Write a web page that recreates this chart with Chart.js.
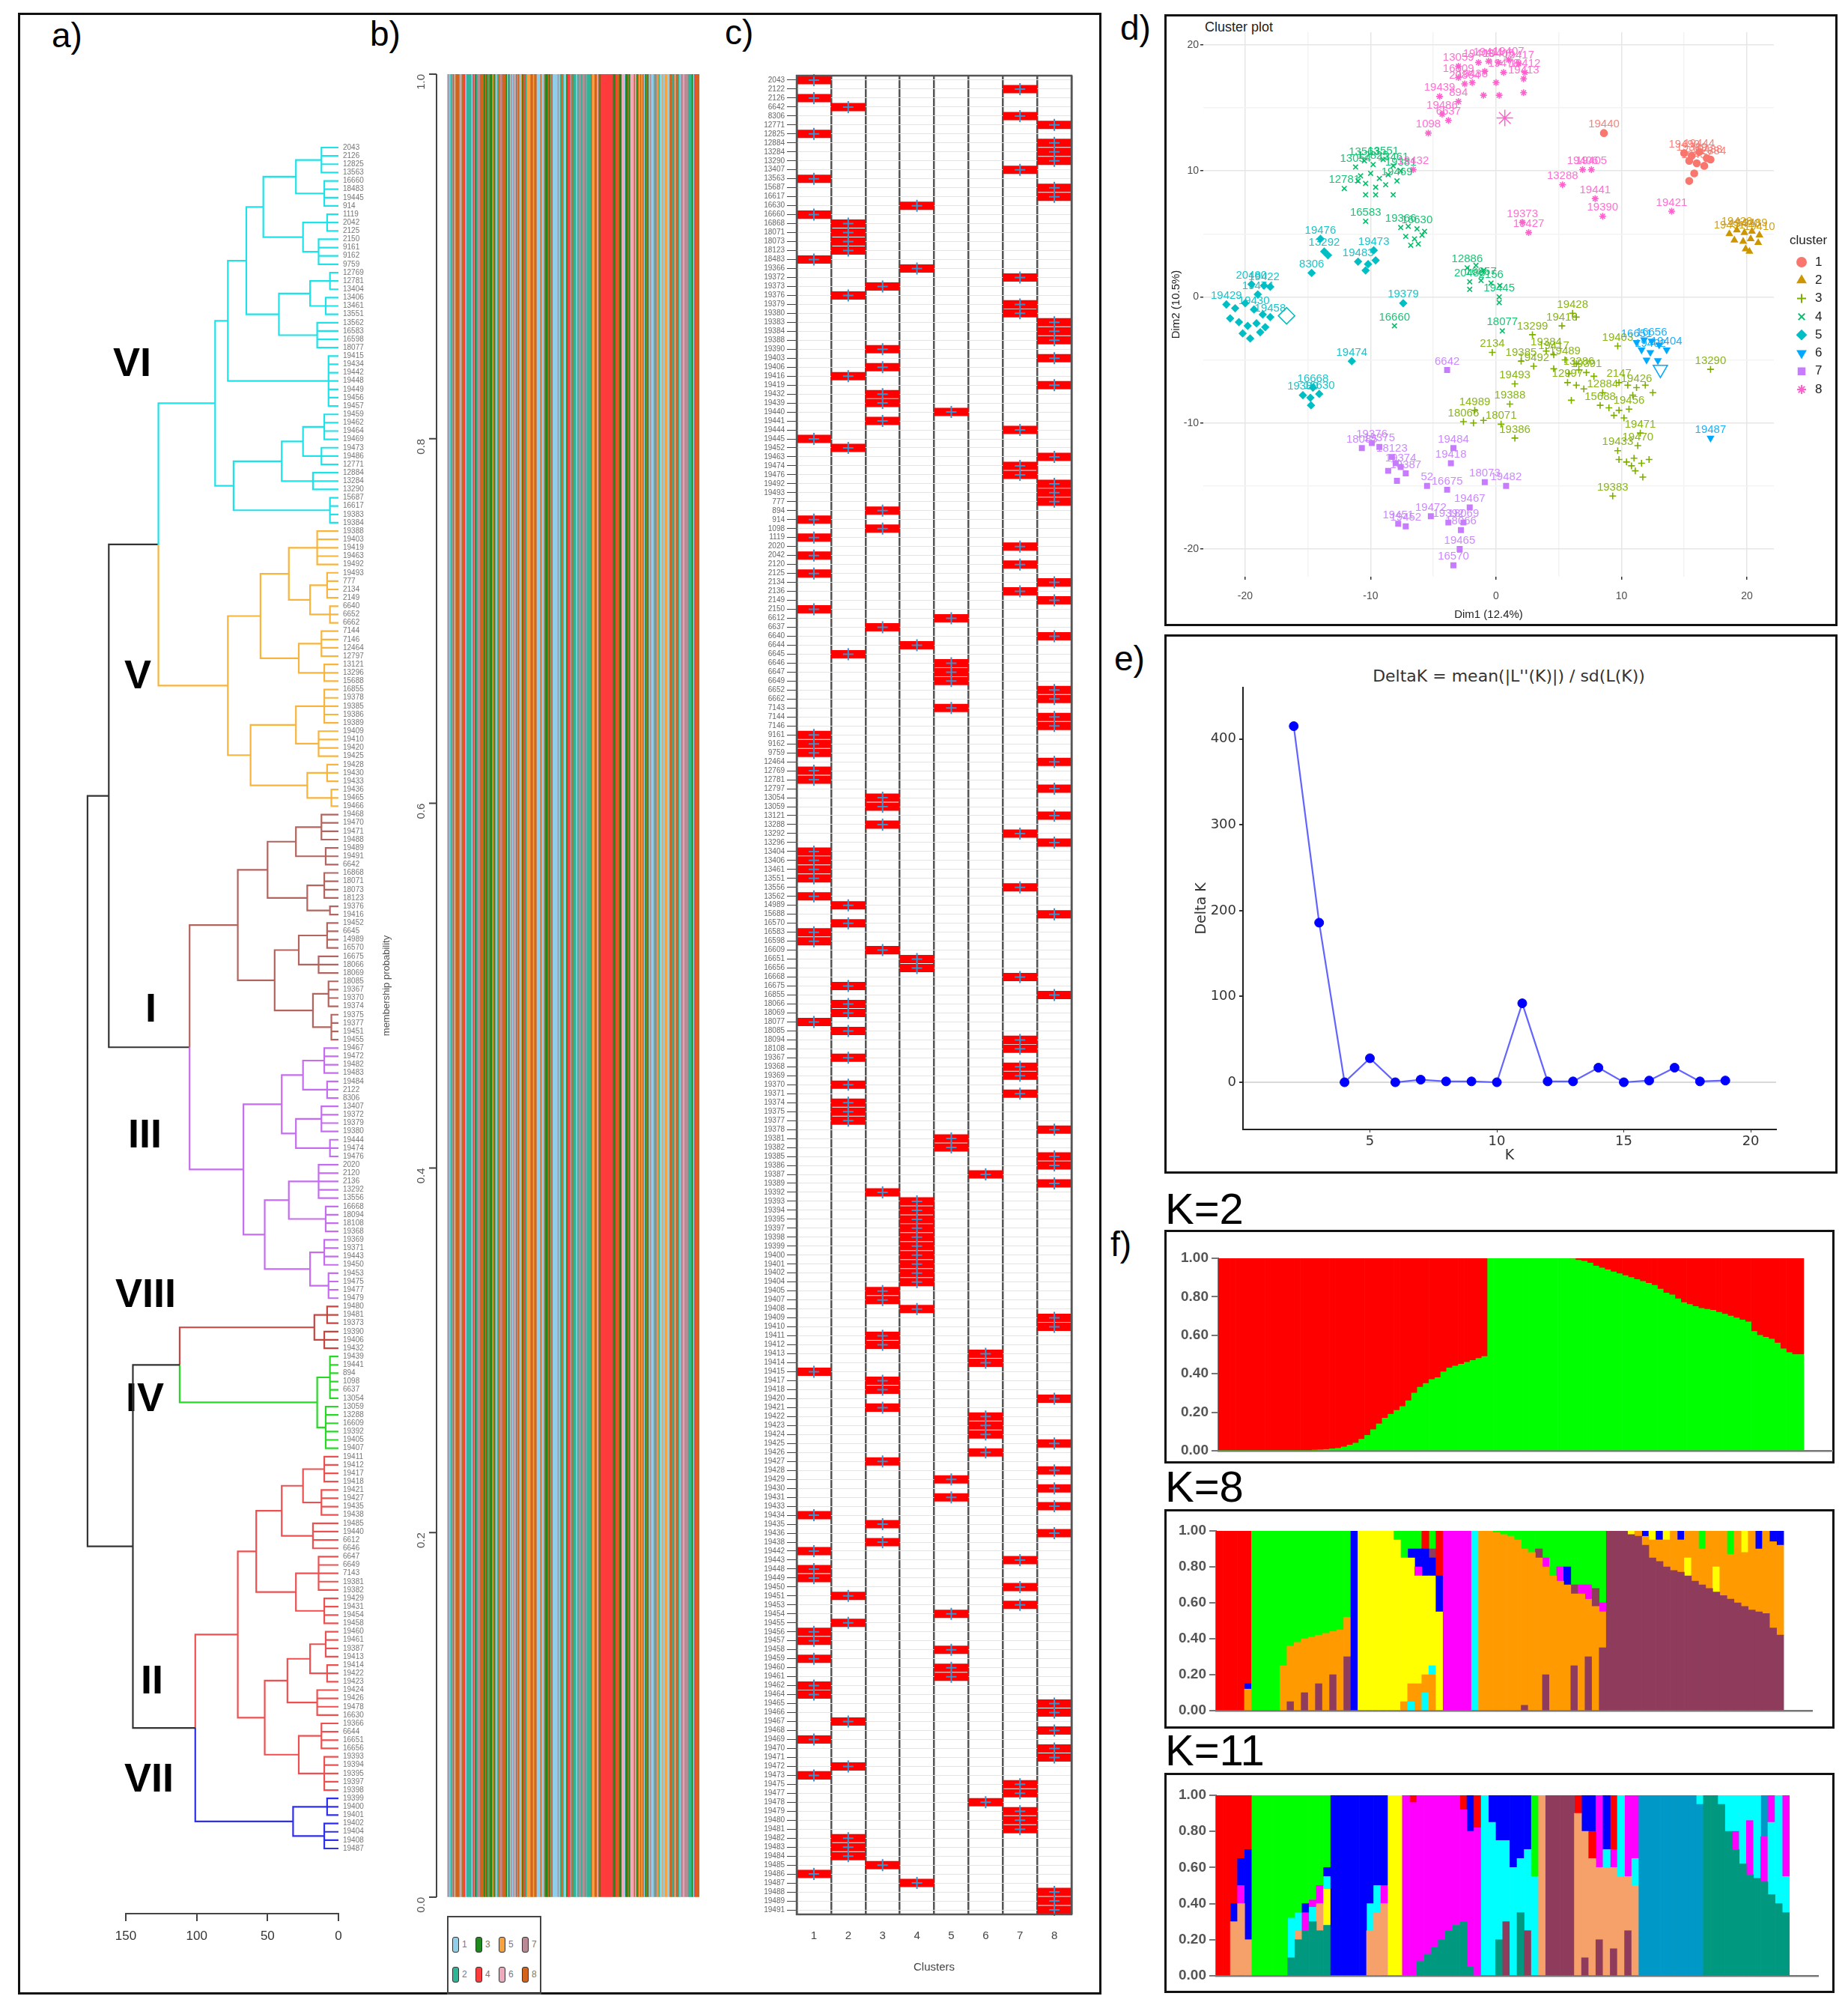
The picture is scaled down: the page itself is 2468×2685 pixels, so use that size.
<!DOCTYPE html>
<html>
<head>
<meta charset="utf-8">
<title>Cluster analysis panels</title>
<script src="https://cdn.jsdelivr.net/npm/chart.js@4.4.1/dist/chart.umd.min.js"></script>
<style>
  body { margin:0; width:2468px; height:2685px; position:relative; background:#fff; overflow:hidden;
         font-family:"Liberation Sans", Arial, sans-serif; }
  canvas { position:absolute; }
  .frame { position:absolute; border:3px solid #111; box-sizing:border-box; }
  .tag { position:absolute; font-size:46px; line-height:1; color:#000; }
  .rom { position:absolute; font-weight:bold; font-size:54px; line-height:1; color:#000; }
  .ktag { position:absolute; font-size:58px; line-height:1; color:#000; }
  .note { position:absolute; white-space:nowrap; color:#222; }
  .sw { position:absolute; width:7px; height:19px; border:1.5px solid #333; border-radius:3px; }
  .swl { position:absolute; font-size:12px; color:#777; }
</style>
</head>
<body>
<div class="frame" style="left:24px;top:17px;width:1447px;height:2646px"></div>
<div class="frame" style="left:1555px;top:19px;width:899px;height:817px"></div>
<div class="frame" style="left:1555px;top:847px;width:899px;height:720px"></div>
<div class="frame" style="left:1555px;top:1642px;width:895px;height:312px"></div>
<div class="frame" style="left:1555px;top:2015px;width:895px;height:293px"></div>
<div class="frame" style="left:1555px;top:2367px;width:895px;height:294px"></div>
<div class="frame" style="left:597px;top:2558px;width:126px;height:105px;border-width:2px;border-color:#444"></div>

<div class="tag" style="left:69px;top:24px">a)</div>
<div class="tag" style="left:494px;top:22px">b)</div>
<div class="tag" style="left:968px;top:20px">c)</div>
<div class="tag" style="left:1496px;top:14px">d)</div>
<div class="tag" style="left:1488px;top:856px">e)</div>
<div class="tag" style="left:1483px;top:1638px">f)</div>
<div class="ktag" style="left:1556px;top:1585px">K=2</div>
<div class="ktag" style="left:1556px;top:1956px">K=8</div>
<div class="ktag" style="left:1556px;top:2308px">K=11</div>

<div class="rom" style="left:151px;top:456px">VI</div>
<div class="rom" style="left:166px;top:873px">V</div>
<div class="rom" style="left:194px;top:1318px">I</div>
<div class="rom" style="left:171px;top:1486px">III</div>
<div class="rom" style="left:154px;top:1699px">VIII</div>
<div class="rom" style="left:168px;top:1838px">IV</div>
<div class="rom" style="left:188px;top:2215px">II</div>
<div class="rom" style="left:166px;top:2346px">VII</div>

<div class="note" style="left:1609px;top:26px;font-size:18px">Cluster plot</div>
<div class="note" style="left:2015px;top:902px;font-size:22px;font-family:'DejaVu Sans';transform:translate(-50%,-50%);color:#333">DeltaK = mean(|L''(K)|) / sd(L(K))</div>

<script>
// ---------------- data ----------------
// samples (row order of panel c) and their k-means cluster
const SAMPLES = ['2043','2122','2126','6642','8306','12771','12825','12884','13284','13290',
  '13407','13563','15687','16617','16630','16660','16868','18071','18073','18123',
  '18483','19366','19372','19373','19376','19379','19380','19383','19384','19388',
  '19390','19403','19406','19416','19419','19432','19439','19440','19441','19444',
  '19445','19452','19463','19474','19476','19492','19493','777','894','914',
  '1098','1119','2020','2042','2120','2125','2134','2136','2149','2150',
  '6612','6637','6640','6644','6645','6646','6647','6649','6652','6662',
  '7143','7144','7146','9161','9162','9759','12464','12769','12781','12797',
  '13054','13059','13121','13288','13292','13296','13404','13406','13461','13551',
  '13556','13562','14989','15688','16570','16583','16598','16609','16651','16656',
  '16668','16675','16855','18066','18069','18077','18085','18094','18108','19367',
  '19368','19369','19370','19371','19374','19375','19377','19378','19381','19382',
  '19385','19386','19387','19389','19392','19393','19394','19395','19397','19398',
  '19399','19400','19401','19402','19404','19405','19407','19408','19409','19410',
  '19411','19412','19413','19414','19415','19417','19418','19420','19421','19422',
  '19423','19424','19425','19426','19427','19428','19429','19430','19431','19433',
  '19434','19435','19436','19438','19442','19443','19448','19449','19450','19451',
  '19453','19454','19455','19456','19457','19458','19459','19460','19461','19462',
  '19464','19465','19466','19467','19468','19469','19470','19471','19472','19473',
  '19475','19477','19478','19479','19480','19481','19482','19483','19484','19485',
  '19486','19487','19488','19489','19491'];
const KM_CLUSTER = [1,7,1,2,7,8,1,8,8,8, 7,1,8,8,4,1,2,2,2,2, 1,4,7,3,2,7,7,8,8,8,
  3,8,3,2,8,3,3,5,3,7, 1,2,8,7,7,8,8,8,3,1, 3,1,7,1,7,1,8,7,8,1,
  5,3,8,4,2,5,5,5,8,8, 5,8,8,1,1,1,8,1,1,8, 3,3,8,3,7,8,1,1,1,1,
  7,1,2,8,2,1,1,3,4,4, 7,2,8,2,2,1,2,7,7,2, 7,7,2,7,2,2,2,8,5,5,
  8,8,6,8,3,4,4,4,4,4, 4,4,4,4,4,3,3,4,8,8, 3,3,6,6,1,3,3,8,3,6,
  6,6,8,6,3,8,5,8,5,8, 1,3,8,3,1,7,1,1,7,2, 7,5,2,1,1,5,1,5,5,1,
  1,8,8,2,8,1,8,8,2,1, 7,7,6,7,7,7,2,2,2,3, 1,4,8,8,8];
const CLUSTER_IDS = [1,2,3,4,5,6,7,8];

// dendrogram: [height, left, right]; [height, n] = n leaves joined at that height
const TREE_VI = [87, [78, [65, [53, [30, [12,4], [10,4]], [25, [8,3], [14,4]]], [42, [20, [6,3], [9,3]], [15,4]]], [7,7]],
                     [74, [40, [25, [10,4], [12,3]], [18,3]], [6,4]]];
const TREE_V = [78, [55, [35, [15,5], [20, [8,4], [6,3]]], [28, [12,4], [10,3]]], [62, [30, [10,5], [14,4]], [22, [8,3], [5,3]]]];
const TREE_I = [71, [50, [30, [12,4], [9,3]], [22, [10,4], [6,2]]], [45, [28, [8,4], [14,3]], [18, [7,4], [5,4]]]];
const TREE_III = [67, [40, [25, [10,4], [8,3]], [30, [12,4], [6,3]]], [52, [35, [14,5], [9,4]], [20, [10,4], [7,4]]]];
const TREE_VIII = [17, [8,3], [10,3]];
const TREE_IV = [15, [6,6], [9,6]];
const TREE_II = [71, [58, [40, [25, [10,4], [12,4]], [18,4]], [30, [14,5], [10,4]]], [52, [36, [20, [9,4], [8,3]], [15,4]], [28, [12,4], [10,5]]]];
const TREE_VII = [32, [8,3], [10,4]];
const TOP_TREE = [177, [162, [127, 'VI', 'V'], [105, 'I', 'III']], [145, [112, 'VIII', 'IV'], [101, 'II', 'VII']]];
const LEAF_CLUSTER_ORDER = [1, 8, 2, 7, 3, 5, 6, 4];
const DEND_TICKS = [0, 50, 100, 150];
const B_TICKS = [0, 0.2, 0.4, 0.6, 0.8, 1.0];

// panel d: [cluster, Dim1, Dim2, label]
const D_POINTS = [
  [1,15.0,11.4,'19490'],[1,15.6,11.2,'19389'],[1,16.2,11.5,'19444'],[1,16.8,11.0,'19488'],[1,15.4,10.8,''],
  [1,16.0,10.6,'19457'],[1,16.6,10.4,''],[1,17.1,10.9,'12884'],[1,15.8,9.8,''],[1,15.4,9.2,''],[1,8.6,13.0,'19440'],
  [2,18.6,5.0,'19491'],[2,19.2,5.3,'19428'],[2,19.8,5.1,'19420'],[2,20.4,5.2,'19489'],[2,21.0,4.9,'19410'],
  [2,19.0,4.5,''],[2,19.7,4.4,''],[2,20.3,4.6,''],[2,20.9,4.3,''],[2,19.9,3.8,''],[2,20.2,3.6,''],
  [8,-3.0,18.3,'13059'],[8,-3.0,17.4,'16809'],[8,-2.5,16.9,'20864'],[8,-1.4,18.6,'19408'],[8,-0.6,18.7,'19411'],
  [8,0.2,18.6,'19405'],[8,1.0,18.8,'19407'],[8,1.8,18.5,'19417'],[8,-0.9,17.9,''],[8,0.6,17.8,'19478'],
  [8,2.3,17.8,'19412'],[8,2.2,17.3,'19413'],[8,-1.9,17.0,'19438'],[8,0.0,17.0,''],[8,-4.5,15.9,'19439'],
  [8,-3.0,15.5,'894'],[8,-1.0,16.0,''],[8,0.25,16.0,''],[8,2.2,16.2,''],[8,-4.3,14.5,'19486'],[8,-3.8,14.0,'6637'],
  [8,-5.4,13.0,'1098'],[8,-6.6,10.1,'19432'],[8,6.9,10.1,'19406'],[8,7.6,10.1,'19405'],[8,5.3,8.9,'13288'],
  [8,7.9,7.8,'19441'],[8,8.5,6.4,'19390'],[8,14.0,6.8,'19421'],[8,2.6,5.1,'19427'],[8,2.1,5.9,'19373'],
  [4,-11.2,10.3,'13054'],[4,-10.5,10.8,'13563'],[4,-9.8,10.5,'12825'],[4,-9.0,10.9,'13551'],[4,-8.2,10.4,'13461'],
  [4,-7.6,10.0,'19381'],[4,-10.8,9.6,''],[4,-10.0,9.8,''],[4,-9.3,9.4,''],[4,-8.6,9.7,''],[4,-7.9,9.2,'19469'],
  [4,-10.4,9.0,''],[4,-9.6,8.7,''],[4,-8.8,8.9,''],[4,-11.0,9.2,''],[4,-12.1,8.6,'12781'],[4,-10.4,8.1,''],
  [4,-9.6,8.1,''],[4,-8.2,8.1,''],[4,-10.4,6.0,'16583'],
  [4,-7.6,5.5,'19366'],[4,-7.0,5.6,''],[4,-6.3,5.4,'16630'],[4,-5.7,5.2,''],[4,-7.2,4.8,''],[4,-6.5,4.6,''],
  [4,-5.9,4.9,''],[4,-6.8,4.1,''],[4,-6.2,4.2,''],
  [4,-2.3,2.3,'12886'],[4,-1.6,2.5,''],[4,-1.0,2.1,''],[4,-2.1,1.2,'20486'],[4,-1.2,1.3,'16857'],[4,-0.4,1.1,'2156'],
  [4,0.3,0.9,''],[4,-2.1,0.6,''],[4,0.25,0.0,'19445'],[4,0.25,-0.45,''],[4,0.5,-2.7,'18077'],[4,-8.1,-2.3,'16660'],
  [5,-19.5,1.0,'20480'],[5,-18.5,0.9,'19422'],[5,-18.0,0.8,''],[5,-19.0,0.2,'19474'],[5,-21.5,-0.6,'19429'],
  [5,-20.8,-0.9,''],[5,-20.0,-0.5,''],[5,-19.3,-1.0,'19430'],[5,-18.6,-1.4,''],[5,-18.0,-1.6,'19458'],
  [5,-21.2,-1.7,''],[5,-20.5,-2.0,''],[5,-19.8,-2.3,''],[5,-19.1,-2.1,''],[5,-18.4,-2.4,''],[5,-20.2,-2.9,''],
  [5,-19.6,-3.3,''],[5,-18.8,-2.8,''],
  [5,-14.0,4.6,'19476'],[5,-13.7,3.6,'13292'],[5,-13.4,3.3,''],[5,-14.7,1.9,'8306'],[5,-9.75,3.7,'19473'],
  [5,-11.0,2.8,'19483'],[5,-10.2,2.6,''],[5,-9.6,2.9,''],[5,-10.4,2.1,''],[5,-7.4,-0.5,'19379'],
  [5,-11.5,-5.1,'19474'],[5,-14.6,-7.2,'16668'],[5,-15.4,-7.8,'19380'],[5,-14.8,-8.0,''],[5,-14.1,-7.7,'16630'],
  [5,-14.75,-8.6,''],
  [6,11.2,-3.6,'16651'],[6,11.8,-3.4,''],[6,12.4,-3.5,'16656'],[6,13.0,-3.8,''],[6,13.6,-4.2,'19404'],
  [6,11.6,-4.2,''],[6,12.3,-4.4,'19402'],[6,12.0,-5.0,''],[6,12.9,-5.05,''],[6,17.1,-11.2,'19487'],
  [3,6.1,-1.3,'19428'],[3,6.4,-1.6,''],[3,5.25,-2.3,'19416'],[3,2.9,-3.0,'13299'],[3,-0.3,-4.4,'2134'],
  [3,9.7,-3.9,'19403'],[3,4.0,-4.3,'19384'],[3,4.6,-4.6,'19417'],[3,2.0,-5.1,'19385'],[3,3.0,-5.5,'19492'],
  [3,5.5,-5.0,'19489'],[3,6.4,-5.3,''],[3,4.6,-5.7,''],[3,5.8,-6.1,''],[3,6.6,-5.8,'13286'],[3,7.2,-6.0,'19391'],
  [3,7.8,-6.3,''],[3,5.7,-6.8,'12997'],[3,6.4,-7.0,''],[3,7.0,-7.3,''],[3,8.5,-7.6,'12884'],[3,6.0,-8.2,''],
  [3,1.5,-6.9,'19493'],[3,1.1,-8.5,'19388'],[3,8.3,-8.6,'15688'],[3,9.0,-8.8,''],[3,9.8,-9.0,''],
  [3,10.6,-8.9,'19456'],[3,9.4,-9.4,''],[3,10.2,-9.6,''],[3,9.8,-6.8,'2147'],[3,10.5,-7.0,''],
  [3,11.2,-7.2,'19426'],[3,11.9,-7.0,''],[3,12.5,-7.6,''],[3,10.9,-7.8,''],[3,-1.7,-9.0,'14989'],
  [3,-2.6,-9.9,'18066'],[3,-1.8,-10.0,''],[3,-1.0,-9.8,''],[3,0.4,-10.1,'18071'],[3,1.5,-11.2,'19386'],
  [3,11.5,-10.8,'19471'],[3,11.3,-11.8,'19470'],[3,9.7,-12.2,'19433'],[3,9.8,-12.9,''],[3,10.4,-13.1,''],
  [3,11.0,-12.8,''],[3,11.6,-13.2,''],[3,12.2,-12.9,''],[3,10.8,-13.4,''],[3,11.1,-13.8,''],[3,11.7,-14.3,''],
  [3,9.3,-15.8,'19383'],[3,17.1,-5.75,'13290'],
  [7,-10.7,-12.0,'18085'],[7,-9.9,-11.6,'19376'],[7,-9.3,-11.9,'19375'],[7,-8.3,-12.7,'18123'],[7,-8.0,-13.2,''],
  [7,-7.6,-13.5,'19374'],[7,-8.6,-13.8,''],[7,-7.2,-14.0,'19387'],[7,-7.9,-14.6,''],[7,-5.5,-15.0,'52'],
  [7,-3.9,-15.3,'16675'],[7,-3.4,-12.0,'19484'],[7,-3.6,-13.2,'19418'],[7,-0.9,-14.7,'18073'],[7,0.8,-15.0,'19482'],
  [7,-2.1,-16.7,'19467'],[7,-7.8,-18.0,'19451'],[7,-7.2,-18.2,'19452'],[7,-5.2,-17.4,'19472'],[7,-3.8,-17.9,'19392'],
  [7,-2.6,-17.9,'18069'],[7,-2.8,-18.5,'18066'],[7,-2.9,-20.0,'19465'],[7,-3.4,-21.3,'16570'],[7,-3.9,-5.8,'6642']
];
const D_CENTERS = [[5,-16.7,-1.5],[6,13.1,-5.75],[8,0.7,14.2]];

// panel e: Evanno delta K
const K_VALUES = [2,3,4,5,6,7,8,9,10,11,12,13,14,15,16,17,18,19];
const DELTA_K = [415,186,0,28,0,3,1,1,0,92,1,1,17,0,2,17,1,2];

// panel f: admixture bars (K=2 as green share; K=8/K=11 as bottom-to-top segments, last one fills the rest)
const K2_GREEN = [0,0,0,0,0,0,0,0,0,0,0,0,0,0,0,0,
  0.003,0.005,0.007,0.01,0.013,0.02,0.03,0.04,0.06,0.08,0.11,0.14,0.17,0.19,0.21,0.23,0.26,0.30,0.33,0.35,
  0.37,0.38,0.41,0.43,0.44,0.45,0.46,0.47,0.48,0.49,
  1,1,1,1,1,1,1,1,1,1,1,1,1,1,
  0.998,0.99,0.985,0.975,0.96,0.95,0.94,0.93,0.92,0.91,0.90,0.89,0.88,0.87,0.86,0.84,0.82,0.81,0.79,0.77,
  0.76,0.75,0.74,0.735,0.73,0.72,0.71,0.70,0.69,0.68,0.67,0.62,0.60,0.59,0.58,0.56,0.53,0.51,0.50,0.50];
const K8_BARS = ['R','R','R','R','O12B3R','G','G','G','G','O25G',
  'P5O31G','O38G','P10O30G','O41G','P15O27G','O43G','P20O24G','O45G','P30O22G','B',
  'Y','Y','Y','Y','Y','Y95G','O5Y80G','C5O10Y70B5G','O15Y60M5B10G','C10O10Y55B15R',
  'O20C5Y50B10P5G','Y55B20R','M','M','M','M','C','O','O','O99G',
  'O98G','O97G','O95G','P3O87G','O88G','O85P5G','P20O60M5G','O75G','O72M8G','O70B10G',
  'P25O40P5G','O65M5G','P30O32M8G','O58P10G','P35O20M5G','P','P','P','P98Y','P97O',
  'P92O5B','P85O10Y','P83O12B','P80O15Y','P78O','P77O18B','P75Y10O','P72O','P70O20G','P68O',
  'P66Y14O','P64O','P62O25G','P60O','P58O30Y','P56O','P55O35B','P54O','P46O48B','P42O50B'];
const K11_BARS = ['R','R','S30B10R','S40M10B15R','S20B50R','G','G','G','G','G',
  'E10C22G','E20S5C10G','E25M10B5G','E30C8M4G','E25S15M10G','E28Y20C7B5G','B','B','B','B',
  'B','S25C15B','S35C15B','S40M10B','Y','Y','M','M96R','E8M','E12M',
  'E16M','E20M','E25M','E28M','E30M62R','E5M75B','M82R','C','C85B','E20C55B',
  'P30C45B','C60B','E35C30B','P25C45B','C55G','S','P','P','P','P',
  'S90R','P10S70B','S65R15B','P20S40M','S60C10B','P15S45M10R','S55C','P25S30M','S50C15M','T',
  'T','T','T','T','T','T','T','T95C','E','E',
  'E95C','E80C','E70M10C','E62C','E56M30C','E54C','E52M25T','E45C40M','E40C','E35C20M'];
const F_TICKS = [0, 0.2, 0.4, 0.6, 0.8, 1.0];

// ---------------- styles ----------------
const DEND_COLORS = { VI:'#1ce3ea', V:'#f9b43c', I:'#b4645e', III:'#c56cf0', VIII:'#c8453f', IV:'#25d925', II:'#ee5050', VII:'#2e2ef0' };
const DEND_TREES = { VI:TREE_VI, V:TREE_V, I:TREE_I, III:TREE_III, VIII:TREE_VIII, IV:TREE_IV, II:TREE_II, VII:TREE_VII };
const B_COLORS = ['#8ecfea','#2fb596','#1e8a1e','#ff3b3b','#f7a23e','#efa9bc','#b98a94','#d2641c'];
const D_COLORS = ['#F8766D','#CD9600','#7CAE00','#00BE67','#00BFC4','#00A9FF','#C77CFF','#FF61CC'];
const D_SHAPES = ['circle','triangle','cross','crossRot','rectRot','triangle','rect','star'];
const D_ROT = [0,0,0,0,0,180,0,0];
const K2_PAL = { G:'#00ff00', R:'#ff0000' };
const K8_PAL = { R:'#ff0000', G:'#00ff00', B:'#0000ff', Y:'#ffff00', M:'#ff00ff', C:'#00ffff', O:'#ff9a00', P:'#8f3b5b' };
const K11_PAL = { R:'#ff0000', G:'#00ff00', B:'#0000ff', Y:'#ffff00', M:'#ff00ff', C:'#00ffff', P:'#8f3b5b', S:'#f6a06a', T:'#0098c6', E:'#00987f' };

Chart.defaults.animation = false;
Chart.defaults.responsive = false;
Chart.defaults.font.family = '"Liberation Sans", Arial, sans-serif';
Chart.defaults.plugins.legend.display = false;
Chart.defaults.plugins.tooltip.enabled = false;

function place(L, T, W, H) {
  const c = document.createElement('canvas');
  c.width = W; c.height = H;
  c.style.left = L + 'px'; c.style.top = T + 'px';
  c.style.width = W + 'px'; c.style.height = H + 'px';
  document.body.appendChild(c);
  return c;
}
function fixW(w) { return s => { s.width = w; s.paddingTop = 0; s.paddingBottom = 0; }; }
function fixH(h) { return s => { s.height = h; s.paddingLeft = 0; s.paddingRight = 0; }; }

// ---------------- a) dendrogram ----------------
let leafIdx = 0;
const dendSegs = {};
function addEdge(col, pts) {
  (dendSegs[col] = dendSegs[col] || []).push(...pts, { x: NaN, y: NaN });
}
function lay(node, col) {
  if (typeof node === 'string') return lay(DEND_TREES[node], DEND_COLORS[node]);
  const h = node[0];
  if (typeof node[1] === 'number') {
    const ys = [];
    for (let i = 0; i < node[1]; i++) ys.push(leafIdx++);
    const mid = (ys[0] + ys[ys.length - 1]) / 2;
    ys.forEach(y => addEdge(col, [{ x: h, y: mid }, { x: h, y }, { x: 0, y }]));
    return { h, y: mid, col };
  }
  const a = lay(node[1], col), b = lay(node[2], col);
  const mid = (a.y + b.y) / 2;
  [a, b].forEach(c => addEdge(c.col, [{ x: h, y: mid }, { x: h, y: c.y }, { x: c.h, y: c.y }]));
  return { h, y: mid, col };
}
lay(TOP_TREE, '#333333');
const nLeaves = leafIdx;
const LEAF_LABELS = SAMPLES.map((s, i) => [s, KM_CLUSTER[i]])
  .sort((p, q) => LEAF_CLUSTER_ORDER.indexOf(p[1]) - LEAF_CLUSTER_ORDER.indexOf(q[1]))
  .map(p => p[0]);

const leafTop = 197, leafBot = 2468, dY0 = 150, dY1 = 2555;
const leafStep = (leafBot - leafTop) / (nLeaves - 1);
const leafLabels = {
  id: 'leafLabels',
  afterDatasetsDraw(chart) {
    const ctx = chart.ctx, ys = chart.scales.y, x = chart.chartArea.right + 6;
    ctx.save();
    ctx.font = '10px "Liberation Sans"'; ctx.fillStyle = '#777'; ctx.textBaseline = 'middle';
    for (let i = 0; i < nLeaves; i++) ctx.fillText(LEAF_LABELS[i] || '', x, ys.getPixelForValue(i));
    ctx.restore();
  }
};
new Chart(place(30, 120, 480, 2500), {
  type: 'line',
  data: { datasets: Object.keys(dendSegs).map(col => ({
    data: dendSegs[col], borderColor: col, borderWidth: 2.2, pointRadius: 0, clip: false, spanGaps: false })) },
  options: {
    layout: { autoPadding: false, padding: { left: 168 - 30, top: dY0 - 120, right: 510 - 452, bottom: 0 } },
    scales: {
      x: { type: 'linear', min: 0, max: 150, reverse: true,
           afterBuildTicks: s => { s.ticks = DEND_TICKS.map(v => ({ value: v })); },
           ticks: { font: { size: 17 }, color: '#333', padding: 10 },
           grid: { drawOnChartArea: false, tickLength: 10, color: '#444', lineWidth: 2 },
           border: { color: '#444', width: 2 },
           afterFit: fixH(2620 - dY1) },
      y: { type: 'linear', display: false, reverse: true,
           min: -(leafTop - dY0) / leafStep, max: (nLeaves - 1) + (dY1 - leafBot) / leafStep }
    }
  },
  plugins: [leafLabels]
});

// ---------------- b) membership probability ----------------
const bAxisX = 583, bLeft = 597, bRight = 934, bTop = 99, bBot = 2533;
const bAxis = {
  id: 'bAxis',
  afterDraw(chart) {
    const ctx = chart.ctx, ys = chart.scales.y, ox = 505;
    ctx.save();
    ctx.strokeStyle = '#444'; ctx.lineWidth = 2;
    ctx.beginPath();
    ctx.moveTo(bAxisX - ox, ys.getPixelForValue(0)); ctx.lineTo(bAxisX - ox, ys.getPixelForValue(1));
    B_TICKS.forEach(v => { const y = ys.getPixelForValue(v); ctx.moveTo(bAxisX - ox, y); ctx.lineTo(bAxisX - ox - 10, y); });
    ctx.stroke();
    ctx.restore();
  }
};
new Chart(place(505, 80, 455, 2490), {
  type: 'bar',
  data: { labels: SAMPLES, datasets: [{
    data: SAMPLES.map(() => 1),
    backgroundColor: KM_CLUSTER.map(c => B_COLORS[c - 1]),
    barPercentage: 1, categoryPercentage: 1, borderWidth: 0 }] },
  options: {
    layout: { autoPadding: false, padding: { left: 0, top: bTop - 80, right: 960 - bRight, bottom: 2570 - bBot } },
    scales: {
      x: { display: false },
      y: { min: 0, max: 1,
           afterBuildTicks: s => { s.ticks = B_TICKS.map(v => ({ value: v })); },
           ticks: { callback: v => v.toFixed(1), minRotation: 90, maxRotation: 90, font: { size: 15 }, color: '#555', padding: 34 },
           grid: { drawOnChartArea: false, drawTicks: false },
           border: { display: false },
           title: { display: true, text: 'membership probability', font: { size: 13 }, color: '#555', padding: { top: 4, bottom: 2 } },
           afterFit: fixW(bLeft - 505) }
    }
  },
  plugins: [bAxis]
});
// legend of panel b
(function () {
  const order = [[1, 3, 5, 7], [2, 4, 6, 8]];
  order.forEach((row, r) => row.forEach((c, k) => {
    const sw = document.createElement('div');
    sw.className = 'sw';
    sw.style.left = (604 + 31 * k) + 'px'; sw.style.top = (2586 + 40 * r) + 'px';
    sw.style.background = B_COLORS[c - 1];
    document.body.appendChild(sw);
    const t = document.createElement('div');
    t.className = 'swl'; t.textContent = String(c);
    t.style.left = (617 + 31 * k) + 'px'; t.style.top = (2589 + 40 * r) + 'px';
    document.body.appendChild(t);
  }));
})();

// ---------------- c) cluster membership grid ----------------
const crossMarks = {
  id: 'crossMarks',
  afterDatasetsDraw(chart) {
    const ctx = chart.ctx, ca = chart.chartArea;
    ctx.save();
    ctx.strokeStyle = '#3f8fca'; ctx.lineWidth = 2;
    chart.getDatasetMeta(0).data.forEach(el => {
      const cx = (el.x + el.base) / 2, cy = el.y;
      ctx.beginPath();
      ctx.moveTo(cx - 7, cy); ctx.lineTo(cx + 7, cy);
      ctx.moveTo(cx, cy - 8); ctx.lineTo(cx, cy + 8);
      ctx.stroke();
    });
    ctx.strokeStyle = '#555'; ctx.lineWidth = 2.5;
    ctx.strokeRect(ca.left, ca.top, ca.right - ca.left, ca.bottom - ca.top);
    ctx.restore();
  }
};
new Chart(place(960, 90, 500, 2560), {
  type: 'bar',
  data: { labels: SAMPLES, datasets: [{
    data: KM_CLUSTER.map(c => [c - 0.5, c + 0.5]),
    backgroundColor: '#ff0000', borderWidth: 0, barPercentage: 0.92, categoryPercentage: 1 }] },
  options: {
    indexAxis: 'y',
    layout: { autoPadding: false, padding: { left: 0, top: 101 - 90, right: 1460 - 1431, bottom: 0 } },
    scales: {
      x: { type: 'linear', min: 0.5, max: 8.5,
           afterBuildTicks: s => { s.ticks = [0.5, 1, 1.5, 2, 2.5, 3, 3.5, 4, 4.5, 5, 5.5, 6, 6.5, 7, 7.5, 8, 8.5].map(v => ({ value: v })); },
           ticks: { callback: v => (v % 1 ? '' : String(v)), font: { size: 15 }, color: '#444', padding: 20, autoSkip: false, maxRotation: 0 },
           grid: { color: c => (c.tick && c.tick.value % 1 ? '#555' : 'rgba(0,0,0,0)'), lineWidth: 2.5, drawTicks: false },
           border: { display: false },
           title: { display: true, text: 'Clusters', font: { size: 15 }, color: '#444', padding: { top: 4, bottom: 14 } },
           afterFit: fixH(2650 - 2556) },
      y: { ticks: { autoSkip: false, font: { size: 10 }, color: '#666', padding: 3 },
           grid: { offset: false, color: '#e4e4e4', lineWidth: 1, tickLength: 13, tickColor: '#444' },
           border: { display: false },
           afterFit: fixW(1064 - 960) }
    }
  },
  plugins: [crossMarks]
});

// ---------------- d) cluster plot ----------------
const pointLabels = {
  id: 'pointLabels',
  afterDatasetsDraw(chart) {
    const ctx = chart.ctx;
    ctx.save();
    ctx.font = '15px "Liberation Sans"'; ctx.textAlign = 'center'; ctx.textBaseline = 'bottom';
    ctx.globalAlpha = 0.9;
    chart.data.datasets.forEach((ds, i) => {
      if (!ds.labels) return;
      chart.getDatasetMeta(i).data.forEach((el, j) => {
        if (!ds.labels[j]) return;
        ctx.fillStyle = ds.borderColor;
        ctx.fillText(ds.labels[j], el.x, el.y - 4);
      });
    });
    ctx.restore();
  }
};
const dLegend = {
  id: 'dLegend',
  afterDraw(chart) {
    const ctx = chart.ctx, ox = 1558, oy = 22;
    const drawPt = Chart.helpers && Chart.helpers.drawPoint;
    ctx.save();
    ctx.font = '17px "Liberation Sans"'; ctx.textBaseline = 'middle'; ctx.fillStyle = '#222';
    ctx.fillText('cluster', 2390 - ox, 321 - oy);
    CLUSTER_IDS.forEach((c, k) => {
      const y = 350 - oy + 24.3 * k, col = D_COLORS[k];
      ctx.fillStyle = col; ctx.strokeStyle = col; ctx.lineWidth = 2;
      if (drawPt) drawPt(ctx, { pointStyle: D_SHAPES[k], radius: 6, rotation: D_ROT[k], borderWidth: 2 }, 2406 - ox, y);
      else { ctx.beginPath(); ctx.arc(2406 - ox, y, 5, 0, Math.PI * 2); ctx.fill(); }
      ctx.fillStyle = '#222';
      ctx.fillText(String(c), 2424 - ox, y);
    });
    ctx.restore();
  }
};
const dMajor = v => Math.abs(v % 10) < 1e-9;
const dDatasets = CLUSTER_IDS.map((c, k) => {
  const pts = D_POINTS.filter(p => p[0] === c);
  return { data: pts.map(p => ({ x: p[1], y: p[2] })), labels: pts.map(p => p[3]),
    borderColor: D_COLORS[k], backgroundColor: D_COLORS[k], pointStyle: D_SHAPES[k], rotation: D_ROT[k],
    pointRadius: 4.5, borderWidth: 1.6 };
}).concat(D_CENTERS.map(p => ({
  data: [{ x: p[1], y: p[2] }], borderColor: D_COLORS[p[0] - 1], backgroundColor: 'rgba(0,0,0,0)',
  pointStyle: D_SHAPES[p[0] - 1], rotation: D_ROT[p[0] - 1], pointRadius: 11, borderWidth: 1.5 })));
const dTicks = [-20, -15, -10, -5, 0, 5, 10, 15, 20];
new Chart(place(1558, 22, 892, 812), {
  type: 'scatter',
  data: { datasets: dDatasets },
  options: {
    layout: { autoPadding: false, padding: { left: 0, top: 43 - 22, right: 2450 - 2369, bottom: 0 } },
    scales: {
      x: { type: 'linear', min: -23.34, max: 22.15,
           afterBuildTicks: s => { s.ticks = dTicks.map(v => ({ value: v })); },
           ticks: { callback: v => (dMajor(v) ? String(v) : ''), font: { size: 14 }, color: '#4d4d4d', padding: 14 },
           grid: { color: c => (c.tick && dMajor(c.tick.value) ? '#e6e6e6' : '#f3f3f3'), lineWidth: 1.5, tickLength: 4,
                   tickColor: c => (c.tick && dMajor(c.tick.value) ? '#333' : 'rgba(0,0,0,0)') },
           border: { display: false },
           title: { display: true, text: 'Dim1 (12.4%)', font: { size: 15 }, color: '#222', padding: { top: 0, bottom: 4 } },
           afterFit: fixH(834 - 770) },
      y: { type: 'linear', min: -22.2, max: 21.0,
           afterBuildTicks: s => { s.ticks = dTicks.map(v => ({ value: v })); },
           ticks: { callback: v => (dMajor(v) ? String(v) : ''), font: { size: 14 }, color: '#4d4d4d', padding: 2 },
           grid: { color: c => (c.tick && dMajor(c.tick.value) ? '#e6e6e6' : '#f3f3f3'), lineWidth: 1.5, tickLength: 4,
                   tickColor: c => (c.tick && dMajor(c.tick.value) ? '#333' : 'rgba(0,0,0,0)') },
           border: { display: false },
           title: { display: true, text: 'Dim2 (10.5%)', font: { size: 15 }, color: '#222', padding: { top: 4, bottom: 0 } },
           afterFit: fixW(1607 - 1558) }
    }
  },
  plugins: [pointLabels, dLegend]
});

// ---------------- e) delta K ----------------
new Chart(place(1558, 850, 892, 714), {
  type: 'line',
  data: { datasets: [{
    data: K_VALUES.map((k, i) => ({ x: k, y: DELTA_K[i] })),
    borderColor: 'rgba(60,60,255,0.8)', borderWidth: 2.2,
    pointRadius: 6, pointBackgroundColor: '#0000ff', pointBorderColor: '#0000ff', pointBorderWidth: 1 }] },
  options: {
    layout: { autoPadding: false, padding: { left: 0, top: 918 - 850, right: 2450 - 2372, bottom: 0 } },
    scales: {
      x: { type: 'linear', min: 0, max: 21,
           afterBuildTicks: s => { s.ticks = [5, 10, 15, 20].map(v => ({ value: v })); },
           ticks: { font: { family: 'DejaVu Sans', size: 18 }, color: '#333', padding: 2 },
           grid: { drawOnChartArea: false, tickLength: 4, color: '#333' },
           border: { color: '#222', width: 2 },
           title: { display: true, text: 'K', font: { family: 'DejaVu Sans', size: 19 }, color: '#333', padding: { top: 0, bottom: 10 } },
           afterFit: fixH(1564 - 1508) },
      y: { type: 'linear', min: -55, max: 460,
           afterBuildTicks: s => { s.ticks = [0, 100, 200, 300, 400].map(v => ({ value: v })); },
           ticks: { font: { family: 'DejaVu Sans', size: 18 }, color: '#333', padding: 4 },
           grid: { color: c => (c.tick && c.tick.value === 0 ? '#d9d9d9' : 'rgba(0,0,0,0)'), lineWidth: 2, tickLength: 5, tickColor: '#333' },
           border: { color: '#222', width: 2 },
           title: { display: true, text: 'Delta K', font: { family: 'DejaVu Sans', size: 19 }, color: '#333', padding: { top: 36, bottom: 0 } },
           afterFit: fixW(1660 - 1558) }
    }
  }
});

// ---------------- f) structure bar plots ----------------
function layersFrom(bars, pal) {
  const parsed = bars.map(s => {
    const segs = [];
    const re = /([A-Z])(\d*)/g;
    let m, used = 0;
    while ((m = re.exec(s))) segs.push([m[1], m[2] === '' ? null : +m[2] / 100]);
    segs.forEach(sg => { if (sg[1] !== null) used += sg[1]; });
    segs.forEach(sg => { if (sg[1] === null) sg[1] = Math.max(0, 1 - used); });
    return segs;
  });
  const depth = Math.max(...parsed.map(p => p.length));
  const out = [];
  for (let k = 0; k < depth; k++) {
    out.push({ data: parsed.map(p => (p[k] ? p[k][1] : 0)),
               backgroundColor: parsed.map(p => (p[k] ? pal[p[k][0]] : 'rgba(0,0,0,0)')) });
  }
  return out;
}
function structurePlot(L, T, W, H, area, datasets, nBars, extra) {
  const labels = [];
  for (let i = 0; i < nBars + extra; i++) labels.push(String(i + 1));
  new Chart(place(L, T, W, H), {
    type: 'bar',
    data: { labels, datasets: datasets.map(d => Object.assign({}, d, { barPercentage: 1, categoryPercentage: 1, borderWidth: 0 })) },
    options: {
      layout: { autoPadding: false, padding: { left: 0, top: area[1] - T, right: L + W - area[2], bottom: 0 } },
      scales: {
        x: { stacked: true, ticks: { display: false }, grid: { display: false },
             border: { color: '#777', width: 2.5 }, afterFit: fixH(T + H - area[3]) },
        y: { stacked: true, min: 0, max: 1,
             afterBuildTicks: s => { s.ticks = F_TICKS.map(v => ({ value: v })); },
             ticks: { callback: v => v.toFixed(2), font: { size: 19, weight: 'bold' }, color: '#555', padding: 4 },
             grid: { drawOnChartArea: false, tickLength: 9, color: '#777', lineWidth: 2 },
             border: { color: '#777', width: 2 },
             afterFit: fixW(area[0] - L) }
      }
    }
  });
}
structurePlot(1558, 1645, 890, 306, [1627, 1680, 2448, 1937], [
  { data: K2_GREEN, backgroundColor: K2_PAL.G },
  { data: K2_GREEN.map(g => 1 - g), backgroundColor: K2_PAL.R }
], K2_GREEN.length, 5);
structurePlot(1558, 2018, 890, 288, [1624, 2044, 2420, 2284], layersFrom(K8_BARS, K8_PAL), K8_BARS.length, 4);
structurePlot(1558, 2370, 890, 289, [1624, 2397, 2428, 2638], layersFrom(K11_BARS, K11_PAL), K11_BARS.length, 4);
</script>
</body>
</html>
